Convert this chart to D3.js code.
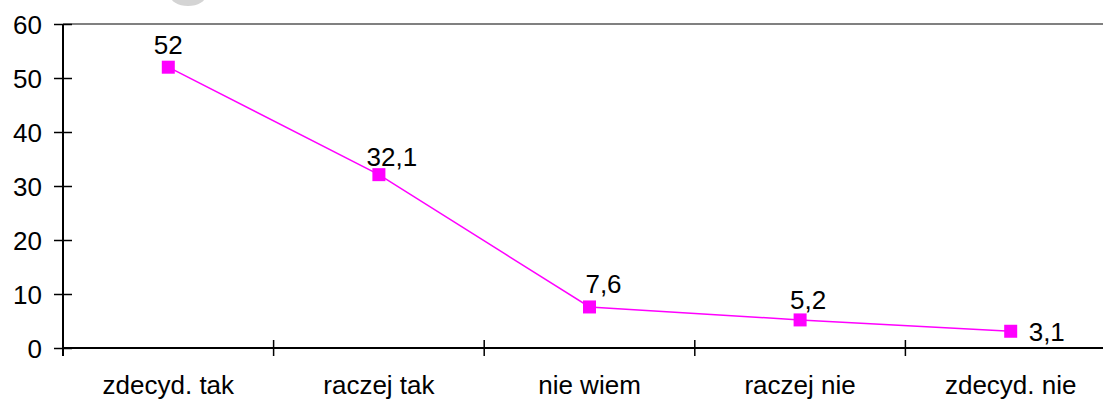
<!DOCTYPE html>
<html>
<head>
<meta charset="utf-8">
<script src="https://cdn.jsdelivr.net/npm/d3@7"></script>
<style>
  html, body { margin: 0; padding: 0; background: #fff; }
  svg { display: block; font-family: "Liberation Sans", Arial, sans-serif; }
</style>
</head>
<body>
<svg id="chart" width="1103" height="400"></svg>
<script>
// Answer categories and percentage shares
const categories = ["zdecyd. tak", "raczej tak", "nie wiem", "raczej nie", "zdecyd. nie"];
const values = [52, 32.1, 7.6, 5.2, 3.1];
const valueLabels = ["52", "32,1", "7,6", "5,2", "3,1"];
const yTicks = [0, 10, 20, 30, 40, 50, 60];

const FONT = "Liberation Sans, Arial, sans-serif";
const FS = 26;

const svg = d3.select("#chart");
const left = 63, bandW = 210.6;

const x = d3.scaleBand().domain(categories).range([left, left + bandW * categories.length]).padding(0);
const y = d3.scaleLinear().domain([0, 60]).range([348, 24]);
const cx = d => x(d) + x.bandwidth() / 2;

// faint grey blob at the top edge
svg.append("ellipse").attr("cx", 188).attr("cy", -5).attr("rx", 18).attr("ry", 11).attr("fill", "#d4d4d4");

// top gridline at the maximum
svg.append("line")
  .attr("x1", left).attr("x2", 1103)
  .attr("y1", y(60)).attr("y2", y(60))
  .attr("stroke", "#808080").attr("stroke-width", 2);

// y axis
const yAxis = svg.append("g").attr("transform", `translate(${left},0)`)
  .call(d3.axisLeft(y).tickValues(yTicks).tickSize(9).tickPadding(12).tickFormat(d3.format("d")));
yAxis.select(".domain").remove();
yAxis.selectAll(".tick line").attr("x1", -9).attr("x2", 9).attr("stroke", "#000").attr("stroke-width", 1.5);
yAxis.selectAll(".tick text").attr("font-size", FS).attr("fill", "#000").attr("font-family", FONT).attr("dy", "0.35em");
svg.append("line").attr("x1", left).attr("x2", left).attr("y1", y(60)).attr("y2", 356)
  .attr("stroke", "#000").attr("stroke-width", 2);

// x axis
const xAxis = svg.append("g").attr("transform", `translate(0,${y(0)})`)
  .call(d3.axisBottom(x).tickSize(0).tickPadding(0));
xAxis.select(".domain").remove();
xAxis.selectAll(".tick text")
  .attr("font-size", FS).attr("fill", "#000").attr("font-family", FONT)
  .attr("dy", null).attr("y", 46);
svg.append("line").attr("x1", left).attr("x2", 1103).attr("y1", y(0)).attr("y2", y(0))
  .attr("stroke", "#000").attr("stroke-width", 2);
// category boundary ticks
svg.append("g").selectAll("line")
  .data(categories.slice(1))
  .join("line")
  .attr("x1", d => x(d)).attr("x2", d => x(d))
  .attr("y1", y(0) - 8).attr("y2", y(0) + 8)
  .attr("stroke", "#000").attr("stroke-width", 1.5);

// line
const line = d3.line().x((d, i) => cx(categories[i])).y(d => y(d));
svg.append("path").datum(values)
  .attr("d", line)
  .attr("fill", "none").attr("stroke", "#ff00ff").attr("stroke-width", 1.5);

// markers
const m = 13;
svg.append("g").selectAll("rect")
  .data(values)
  .join("rect")
  .attr("x", (d, i) => cx(categories[i]) - m / 2)
  .attr("y", d => y(d) - m / 2)
  .attr("width", m).attr("height", m)
  .attr("fill", "#ff00ff");

// value labels (offset from their markers)
const labelOffsets = [[0, -22, "middle"], [13, -18, "middle"], [14, -23, "middle"], [8, -20, "middle"], [18, 1, "start"]];
svg.append("g").selectAll("text")
  .data(values)
  .join("text")
  .attr("x", (d, i) => cx(categories[i]) + labelOffsets[i][0])
  .attr("y", (d, i) => y(d) + labelOffsets[i][1])
  .attr("dy", "0.35em")
  .attr("text-anchor", (d, i) => labelOffsets[i][2])
  .attr("font-size", FS)
  .attr("font-family", FONT)
  .attr("fill", "#000")
  .text((d, i) => valueLabels[i]);
</script>
</body>
</html>
